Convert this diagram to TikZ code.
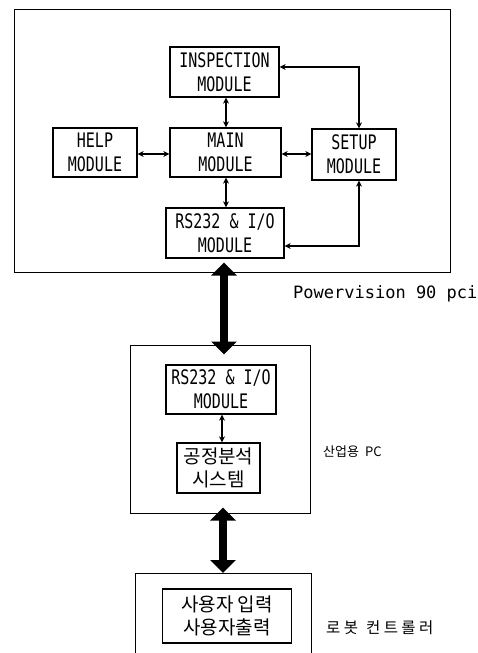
\documentclass[tikz,border=0pt]{standalone}
\usepackage{fontspec}
\usetikzlibrary{arrows.meta}
\newfontfamily\modfont[FakeStretch=0.75]{DejaVu Sans Mono}
\newfontfamily\labfont{DejaVu Sans Mono}
\newfontfamily\kofont{Noto Sans CJK KR}
\newfontfamily\kospaced[LetterSpace=22]{Noto Sans CJK KR}
\tikzset{
  outerbox/.style={draw, line width=1pt, minimum width=#1, inner sep=0pt},
  modbox/.style={draw, line width=1.3pt, inner sep=0pt, align=center, font=\modfont\fontsize{20}{24}\selectfont},
  kobox/.style={draw, line width=1.3pt, inner sep=0pt, align=center, font=\kofont\fontsize{19}{23}\selectfont},
  link/.style={line width=1.1pt, {Stealth[length=6pt,width=6pt]}-{Stealth[length=6pt,width=6pt]}},
  bigarrow/.style={line width=8pt, {Triangle[length=13pt,width=25pt]}-{Triangle[length=13pt,width=25pt]}},
  lab/.style={anchor=west, inner sep=0pt}
}
\begin{document}
\begin{tikzpicture}[x=1pt,y=-1pt]
\useasboundingbox (0,0) rectangle (478,653);
% outer boxes
\node[outerbox=436pt, minimum height=263pt] (top) at (232,140.5) {};
\node[outerbox=180pt, minimum height=168pt] (mid) at (220,429) {};
\draw[line width=1pt] (135,700) -- (135,573) -- (311,573) -- (311,700);
\coordinate (botTop) at (223,573);
% top modules
\node[modbox, minimum width=109pt, minimum height=50pt] (insp) at (224.5,72) {INSPECTION\\MODULE};
\node[modbox, minimum width=84pt, minimum height=49pt] (help) at (95,152.5) {HELP\\MODULE};
\node[modbox, minimum width=111pt, minimum height=49pt] (main) at (225.5,152.5) {MAIN\\MODULE};
\node[modbox, minimum width=84pt, minimum height=51pt] (setup) at (354,154.5) {SETUP\\MODULE};
\node[modbox, minimum width=118pt, minimum height=50pt] (rsa) at (225,233) {RS232 \& I/O\\MODULE};
% middle modules
\node[modbox, minimum width=110pt, minimum height=49pt] (rsb) at (221,389.5) {RS232 \& I/O\\MODULE};
\node[kobox, minimum width=83pt, minimum height=50pt] (proc) at (218.5,468) {공정분석\\시스템};
% bottom module
\node[kobox, minimum width=129pt, minimum height=54pt] (user) at (227,616) {사용자 입력\\사용자출력};
% links top
\draw[link] (insp.south -| 226,0) -- (main.north -| 226,0);
\draw[link] (main.south -| 226,0) -- (rsa.north -| 226,0);
\draw[link] (help.east |- 0,154) -- (main.west |- 0,154);
\draw[link] (main.east |- 0,154) -- (setup.west |- 0,154);
\draw[link] (insp.east |- 0,67) -| (setup.north -| 359,0);
\draw[link] (rsa.east |- 0,246) -| (setup.south -| 359,0);
% middle link
\draw[link] (rsb.south -| 222,0) -- (proc.north -| 222,0);
% big arrows
\draw[bigarrow] ([yshift=10pt]top.south -| 224,0) -- ([yshift=-10pt]mid.north -| 224,0);
\draw[bigarrow] ([yshift=6pt]mid.south -| 223,0) -- (botTop);
% labels
\node[lab, font=\labfont\fontsize{17}{20}\selectfont] (pv) at (293,294) {Powervision 90 pci};
\node[lab, font=\kofont\fontsize{13}{16}\selectfont] (pc) at (323,452) {산업용\hspace{6pt}PC};
\node[lab, font=\kospaced\fontsize{15.5}{18}\selectfont] (robot) at (326,628) {로봇\hspace{8pt}컨트롤러};
\end{tikzpicture}
\end{document}
